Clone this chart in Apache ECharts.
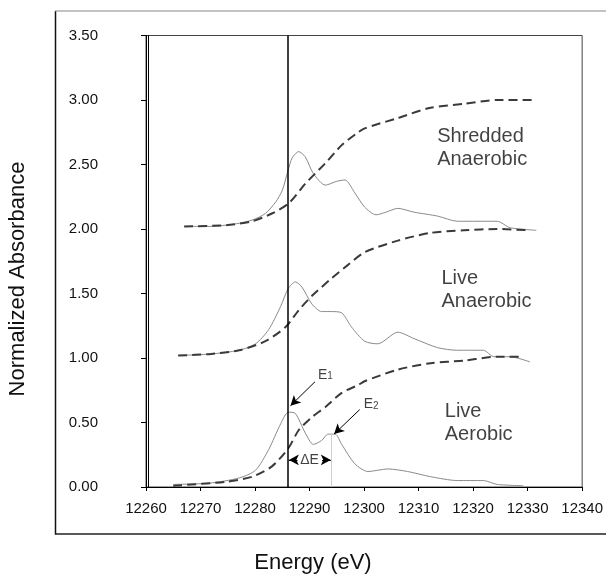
<!DOCTYPE html>
<html>
<head>
<meta charset="utf-8">
<script src="https://cdn.jsdelivr.net/npm/echarts@6/dist/echarts.min.js"></script>
<style>html,body{margin:0;padding:0;background:#fff}#c{width:606px;height:577px}</style>
</head>
<body>
<div id="c"></div>
<script>
// ---- data ----
const xTicks = [12260, 12270, 12280, 12290, 12300, 12310, 12320, 12330, 12340];
const yTicks = [0, 0.5, 1, 1.5, 2, 2.5, 3, 3.5];

const shreddedSolid = [
  [12267,2.02],[12271.6,2.02],[12276.5,2.04],[12279.5,2.07],[12281.9,2.12],[12283.8,2.21],
  [12285,2.30],[12286.1,2.46],[12286.8,2.55],[12288,2.60],[12289.2,2.56],[12290.7,2.43],
  [12292.9,2.34],[12295,2.37],[12296.5,2.38],[12298.3,2.28],[12300.1,2.17],[12302.2,2.11],
  [12304,2.13],[12306.2,2.16],[12309.2,2.13],[12313.5,2.10],[12317.1,2.06],[12320.7,2.06],
  [12324.4,2.06],[12326.8,2.01],[12331.6,1.99]
];
const shreddedDashed = [
  [12267,2.02],[12274.7,2.03],[12279.5,2.06],[12283.1,2.12],[12286.2,2.20],[12289.2,2.35],
  [12292.9,2.51],[12295.9,2.65],[12298.6,2.74],[12300.1,2.78],[12306.2,2.86],[12312.2,2.94],
  [12318.3,2.97],[12324.4,3.00],[12331,3.00]
];
const liveAnaSolid = [
  [12265.9,1.02],[12271.6,1.03],[12277.1,1.06],[12280.1,1.11],[12282.5,1.22],[12284.7,1.40],
  [12286.1,1.54],[12287.4,1.59],[12288.6,1.55],[12290.4,1.42],[12292.2,1.36],[12294,1.36],
  [12295.9,1.35],[12297.7,1.24],[12300.1,1.13],[12302.5,1.11],[12306.2,1.20],[12309.2,1.15],
  [12313.5,1.08],[12317.1,1.06],[12321.9,1.06],[12323.8,1.01],[12326.8,1.01],[12330.4,0.97]
];
const liveAnaDashed = [
  [12265.9,1.02],[12271.6,1.03],[12277.1,1.06],[12281.9,1.13],[12285.6,1.24],[12288,1.37],
  [12290.4,1.48],[12294.1,1.62],[12297,1.72],[12300.1,1.82],[12306.2,1.91],[12312.2,1.97],
  [12318.3,1.99],[12324.4,2.00],[12330.4,1.99]
];
const liveAerSolid = [
  [12265,0.02],[12271.6,0.03],[12277.1,0.07],[12280.1,0.13],[12282.5,0.29],[12284.7,0.49],
  [12286.1,0.58],[12287.4,0.57],[12289.2,0.42],[12290.7,0.33],[12292.2,0.36],[12293.4,0.41],
  [12294.7,0.41],[12295.9,0.33],[12298.3,0.18],[12300.7,0.12],[12304.4,0.14],[12308,0.12],
  [12312.2,0.08],[12317.1,0.05],[12321.9,0.05],[12324.4,0.02],[12329.2,0.01]
];
const liveAerDashed = [
  [12265,0.01],[12274.7,0.04],[12279.5,0.08],[12283.1,0.16],[12286.1,0.30],[12288,0.44],
  [12290.4,0.54],[12292.9,0.62],[12295.9,0.73],[12298.9,0.79],[12300.1,0.82],[12306.2,0.91],
  [12312.2,0.96],[12318.3,0.98],[12324.4,1.01],[12328.6,1.01]
];

// annotation anchors (data coordinates)
const edgeEnergy = 12286;
const e2Energy = 12294;
const e2Value = 0.41;
const curveLabels = [
  {text: 'Shredded\nAnaerobic', x: 12313.4, y: 2.63},
  {text: 'Live\nAnaerobic',     x: 12314.2, y: 1.53},
  {text: 'Live\nAerobic',       x: 12314.8, y: 0.50}
];
const arrowE1 = [[12291.0, 0.816], [12286.5, 0.63]];
const arrowE2 = [[12299.2, 0.60], [12294.5, 0.41]];
const labelE1 = [12292.9, 0.87];
const labelE2 = [12301.3, 0.64];
const deltaE = {x: 12290, y: 0.21, left: [12287.8, 12286.2], right: [12292.3, 12293.9]};

const FONT = '"Liberation Sans", Arial, sans-serif';
const solidStyle = {color: '#8a8a8a', width: 1};
const dashStyle = {color: '#3a3a3a', width: 2, type: [9, 5]};

function line(name, data, style) {
  return {name, type: 'line', data, symbol: 'none', smooth: 0.25, lineStyle: style,
          silent: true, animation: false, z: 3};
}

const chart = echarts.init(document.getElementById('c'), null, {renderer: 'canvas'});
const series = [
  line('Shredded solid', shreddedSolid, solidStyle),
  line('Shredded dashed', shreddedDashed, dashStyle),
  line('Live anaerobic solid', liveAnaSolid, solidStyle),
  line('Live anaerobic dashed', liveAnaDashed, dashStyle),
  line('Live aerobic solid', liveAerSolid, solidStyle),
  line('Live aerobic dashed', liveAerDashed, dashStyle),
  {
    type: 'line', data: [], silent: true, animation: false,
    markLine: {
      silent: true, animation: false, symbol: ['none', 'none'],
      label: {show: false},
      data: [
        [{coord: [edgeEnergy, 0], lineStyle: {color: '#000', width: 1.5, type: 'solid'}},
         {coord: [edgeEnergy, 3.5]}],
        [{coord: [e2Energy, 0], lineStyle: {color: '#d0d0d0', width: 1, type: 'solid'}},
         {coord: [e2Energy, e2Value]}]
      ]
    }
  },
  {
    type: 'line', data: [], silent: true, animation: false,
    markLine: {
      silent: true, animation: false, symbol: ['none', 'arrow'], symbolSize: [8, 10],
      label: {show: false},
      lineStyle: {color: '#000', width: 1, type: 'solid'},
      data: [
        [{coord: arrowE1[0]}, {coord: arrowE1[1]}],
        [{coord: arrowE2[0]}, {coord: arrowE2[1]}],
        [{coord: [deltaE.left[0], deltaE.y]}, {coord: [deltaE.left[1], deltaE.y]}],
        [{coord: [deltaE.right[0], deltaE.y]}, {coord: [deltaE.right[1], deltaE.y]}]
      ]
    }
  },
  {
    type: 'scatter', symbolSize: 0, silent: true, animation: false,
    data: curveLabels.map(l => ({value: [l.x, l.y], name: l.text})),
    label: {show: true, position: 'right', distance: 0, formatter: p => p.name,
            fontFamily: FONT, fontSize: 20, lineHeight: 23, color: '#111', align: 'left',
            verticalAlign: 'middle'}
  },
  {
    type: 'scatter', symbolSize: 0, silent: true, animation: false,
    data: [
      {value: labelE1, name: 'E1'},
      {value: labelE2, name: 'E2'},
      {value: [deltaE.x, deltaE.y], name: 'dE'}
    ],
    label: {show: true, position: 'inside', fontFamily: FONT,
      formatter: p => p.name === 'E1' ? '{m|E}{s|1}' : p.name === 'E2' ? '{m|E}{s|2}' : '{m|ΔE}',
      rich: {m: {fontSize: 14, color: '#111', fontFamily: FONT},
             s: {fontSize: 10, color: '#111', fontFamily: FONT, padding: [3, 0, 0, 0]}}}
  }
];

chart.setOption({
  animation: false,
  backgroundColor: '#fff',
  grid: {left: 146, top: 35.5, right: 19, bottom: 90, show: true, borderColor: '#444', borderWidth: 1},
  xAxis: {
    type: 'value', min: xTicks[0], max: xTicks[xTicks.length - 1], interval: 10,
    axisLine: {lineStyle: {color: '#000', width: 1}},
    axisTick: {show: true, length: 4, lineStyle: {color: '#000'}},
    axisLabel: {color: '#111', fontFamily: FONT, fontSize: 15, margin: 14,
                formatter: v => xTicks.includes(v) ? String(v) : ''},
    splitLine: {show: false}
  },
  yAxis: [{
    type: 'value', min: yTicks[0], max: yTicks[yTicks.length - 1], interval: 0.5,
    axisLine: {show: true, lineStyle: {color: '#000', width: 1}},
    axisTick: {show: true, length: 5, lineStyle: {color: '#000'}},
    axisLabel: {color: '#111', fontFamily: FONT, fontSize: 15, margin: 48,
                formatter: v => v.toFixed(2)},
    splitLine: {show: false}
  }, {
    type: 'value', min: yTicks[0], max: yTicks[yTicks.length - 1], interval: 0.5,
    position: 'left', offset: -2,
    axisLine: {show: true, lineStyle: {color: '#000', width: 1}},
    axisTick: {show: false}, axisLabel: {show: false}, splitLine: {show: false}
  }],
  graphic: [
    {type: 'line', shape: {x1: 55.5, y1: 11, x2: 55.5, y2: 534.5}, style: {stroke: '#111', lineWidth: 1.5}, silent: true},
    {type: 'line', shape: {x1: 55, y1: 11, x2: 606, y2: 11}, style: {stroke: '#888', lineWidth: 1.2}, silent: true},
    {type: 'line', shape: {x1: 55, y1: 534, x2: 606, y2: 534}, style: {stroke: '#222', lineWidth: 1.5}, silent: true},
    {type: 'text', x: 18, y: 279, rotation: Math.PI / 2, silent: true,
     style: {text: 'Normalized Absorbance', fontFamily: FONT, fontSize: 22, fill: '#111',
             textAlign: 'center', textVerticalAlign: 'middle'}},
    {type: 'text', x: 313, y: 563, silent: true,
     style: {text: 'Energy (eV)', fontFamily: FONT, fontSize: 22, fill: '#111',
             textAlign: 'center', textVerticalAlign: 'middle'}}
  ],
  series
});
</script>
</body>
</html>
